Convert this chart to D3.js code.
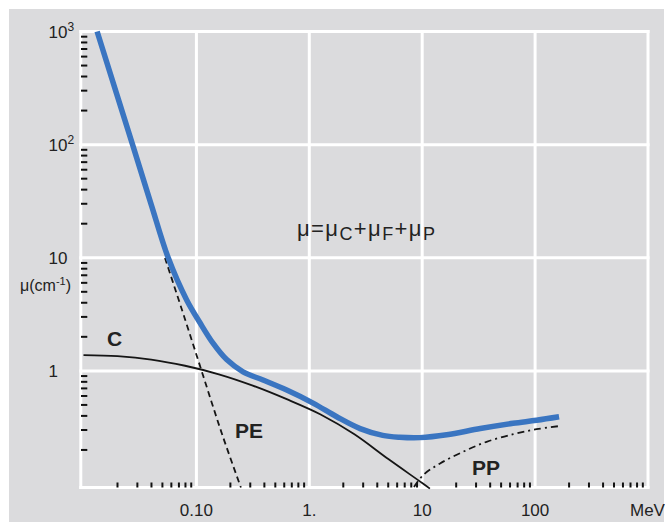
<!DOCTYPE html>
<html>
<head>
<meta charset="utf-8">
<script src="https://cdn.jsdelivr.net/npm/d3@7"></script>
<style>
  html, body { margin: 0; padding: 0; background: #ffffff; }
  svg { display: block; font-family: "Liberation Sans", Arial, sans-serif; }
</style>
</head>
<body>
<svg id="chart" width="665" height="522"></svg>
<script>
// ---- data ----
const xGridValues = [0.1, 1, 10, 100, 1000];
const xTickValues = [0.1, 1, 10, 100];
const xTickLabels = ["0.10", "1.", "10", "100"];
const xUnit = "MeV";

const yGridValues = [1, 10, 100, 1000];
const yLabelBase = ["1", "10", "10", "10"];
const yLabelExp = ["", "", "2", "3"];

// total attenuation (blue)
const totalE  = [0.0132, 0.0272, 0.0398, 0.0564, 0.0820, 0.1076, 0.1403, 0.1854, 0.2588, 0.389, 0.631, 1.079, 1.75,  2.82,  4.47,  6.31,  9.57,  16.5,  32.7,  63.7,  103,   163];
const totalMu = [1000,   100,    29.5,   9.93,   4.23,   2.66,   1.758,  1.259,  0.982,  0.830, 0.676, 0.519, 0.393, 0.309, 0.269, 0.259, 0.257, 0.272, 0.309, 0.344, 0.366, 0.393];

// Compton (C)
const comptonE  = [0.01, 0.020, 0.0398, 0.0794, 0.158, 0.316, 0.631, 1.26,  2.51,  5.01,  10.0,  11.7];
const comptonMu = [1.38, 1.35,  1.26,   1.11,   0.933, 0.741, 0.562, 0.412, 0.275, 0.166, 0.102, 0.091];

// photoelectric (PE)
const photoE  = [0.0527, 0.0794, 0.115, 0.170, 0.248];
const photoMu = [9.94,   2.85,   0.90,  0.27,  0.093];

// pair production (PP)
const pairE  = [8.46,  10.2,  14.4,  23.1,  37.2,  64.1,  103,   172];
const pairMu = [0.094, 0.120, 0.152, 0.193, 0.236, 0.276, 0.305, 0.327];

// ---- drawing ----
const svg = d3.select("#chart");
const x = d3.scaleLog().domain([0.01, 1000]).range([83.5, 648]);
const y = d3.scaleLog().domain([0.1, 1000]).range([484, 31.5]);

const [xl, xr] = x.range();
const [yb, yt] = y.range();

// grey panel
svg.append("rect").attr("x", 9).attr("y", 9).attr("width", 655).attr("height", 513).attr("fill", "#dbdbdd");

// grid
const g = svg.append("g");
g.selectAll("line.vg").data(xGridValues).join("line")
  .attr("x1", d => x(d)).attr("x2", d => x(d))
  .attr("y1", yt - 1.5).attr("y2", yb + 4.5)
  .attr("stroke", "#ffffff").attr("stroke-width", 3);
g.selectAll("line.hg").data(yGridValues).join("line")
  .attr("x1", xl - 4.2).attr("x2", xr + 1.5)
  .attr("y1", d => y(d)).attr("y2", d => y(d))
  .attr("stroke", "#ffffff").attr("stroke-width", 3);
// left & bottom frame
g.append("line").attr("x1", xl - 2.7).attr("x2", xl - 2.7).attr("y1", yt - 1.5).attr("y2", yb + 5)
  .attr("stroke", "#ffffff").attr("stroke-width", 3);
g.append("line").attr("x1", xl - 4.2).attr("x2", xr + 1.5).attr("y1", yb + 3.5).attr("y2", yb + 3.5)
  .attr("stroke", "#ffffff").attr("stroke-width", 3);

// minor ticks
const yMinor = [];
for (let e = -1; e < 3; e++) for (let m = 2; m <= 9; m++) yMinor.push(m * Math.pow(10, e));
const xMinor = [];
for (let e = -2; e < 3; e++) for (let m = 2; m <= 9; m++) xMinor.push(m * Math.pow(10, e));
g.selectAll("line.ym").data(yMinor).join("line")
  .attr("x1", xl - 2.5).attr("x2", xl + 3.8)
  .attr("y1", d => y(d)).attr("y2", d => y(d))
  .attr("stroke", "#111").attr("stroke-width", 2);
g.selectAll("line.xm").data(xMinor).join("line")
  .attr("x1", d => x(d)).attr("x2", d => x(d))
  .attr("y1", yb - 1.5).attr("y2", yb + 3.5)
  .attr("stroke", "#111").attr("stroke-width", 2);

// curves
const line = d3.line().x(d => x(d[0])).y(d => y(d[1])).curve(d3.curveCatmullRom.alpha(0.5));
const zip = (a, b) => a.map((v, i) => [v, b[i]]);

svg.append("path").attr("d", line(zip(comptonE, comptonMu)))
  .attr("fill", "none").attr("stroke", "#151515").attr("stroke-width", 1.8);
svg.append("path").attr("d", line(zip(photoE, photoMu)))
  .attr("fill", "none").attr("stroke", "#151515").attr("stroke-width", 1.8)
  .attr("stroke-dasharray", "6,4");
svg.append("path").attr("d", line(zip(pairE, pairMu)))
  .attr("fill", "none").attr("stroke", "#151515").attr("stroke-width", 1.8)
  .attr("stroke-dasharray", "7,4,2,4");
svg.append("path").attr("d", line(zip(totalE, totalMu)))
  .attr("fill", "none").attr("stroke", "#3a75c1").attr("stroke-width", 5.5);

// y labels
const yl = svg.append("g").attr("fill", "#222").attr("font-size", 17);
yGridValues.forEach((v, i) => {
  const t = yl.append("text").attr("x", 48.5).attr("y", y(v) + 6.5);
  t.append("tspan").text(yLabelBase[i]);
  if (yLabelExp[i]) t.append("tspan").attr("font-size", 12).attr("dy", -7).text(yLabelExp[i]);
});
// y unit
const yu = svg.append("text").attr("x", 20).attr("y", 291).attr("fill", "#222").attr("font-size", 16);
yu.append("tspan").text("\u03bc(cm");
yu.append("tspan").attr("font-size", 11).attr("dy", -6).text("-1");
yu.append("tspan").attr("dy", 6).text(")");

// x labels
const xlG = svg.append("g").attr("fill", "#222").attr("font-size", 17);
xlG.selectAll("text").data(xTickValues).join("text")
  .attr("x", d => x(d)).attr("y", 516).attr("text-anchor", "middle")
  .text((d, i) => xTickLabels[i]);
xlG.append("text").attr("x", 630).attr("y", 516).text(xUnit);

// annotations
const ann = svg.append("g").attr("fill", "#222").attr("font-size", 21).attr("font-weight", "bold");
ann.append("text").attr("x", 107).attr("y", 346).text("C");
ann.append("text").attr("x", 235).attr("y", 438).text("PE");
ann.append("text").attr("x", 472).attr("y", 475).text("PP");

// formula
const f = svg.append("text").attr("x", 297).attr("y", 236).attr("fill", "#222")
  .attr("font-size", 22).attr("letter-spacing", 1.4);
f.append("tspan").text("\u03bc=\u03bc");
f.append("tspan").attr("font-size", 18).attr("dy", 4).text("C");
f.append("tspan").attr("dy", -4).text("+\u03bc");
f.append("tspan").attr("font-size", 18).attr("dy", 4).text("F");
f.append("tspan").attr("dy", -4).text("+\u03bc");
f.append("tspan").attr("font-size", 18).attr("dy", 4).text("P");
</script>
</body>
</html>
